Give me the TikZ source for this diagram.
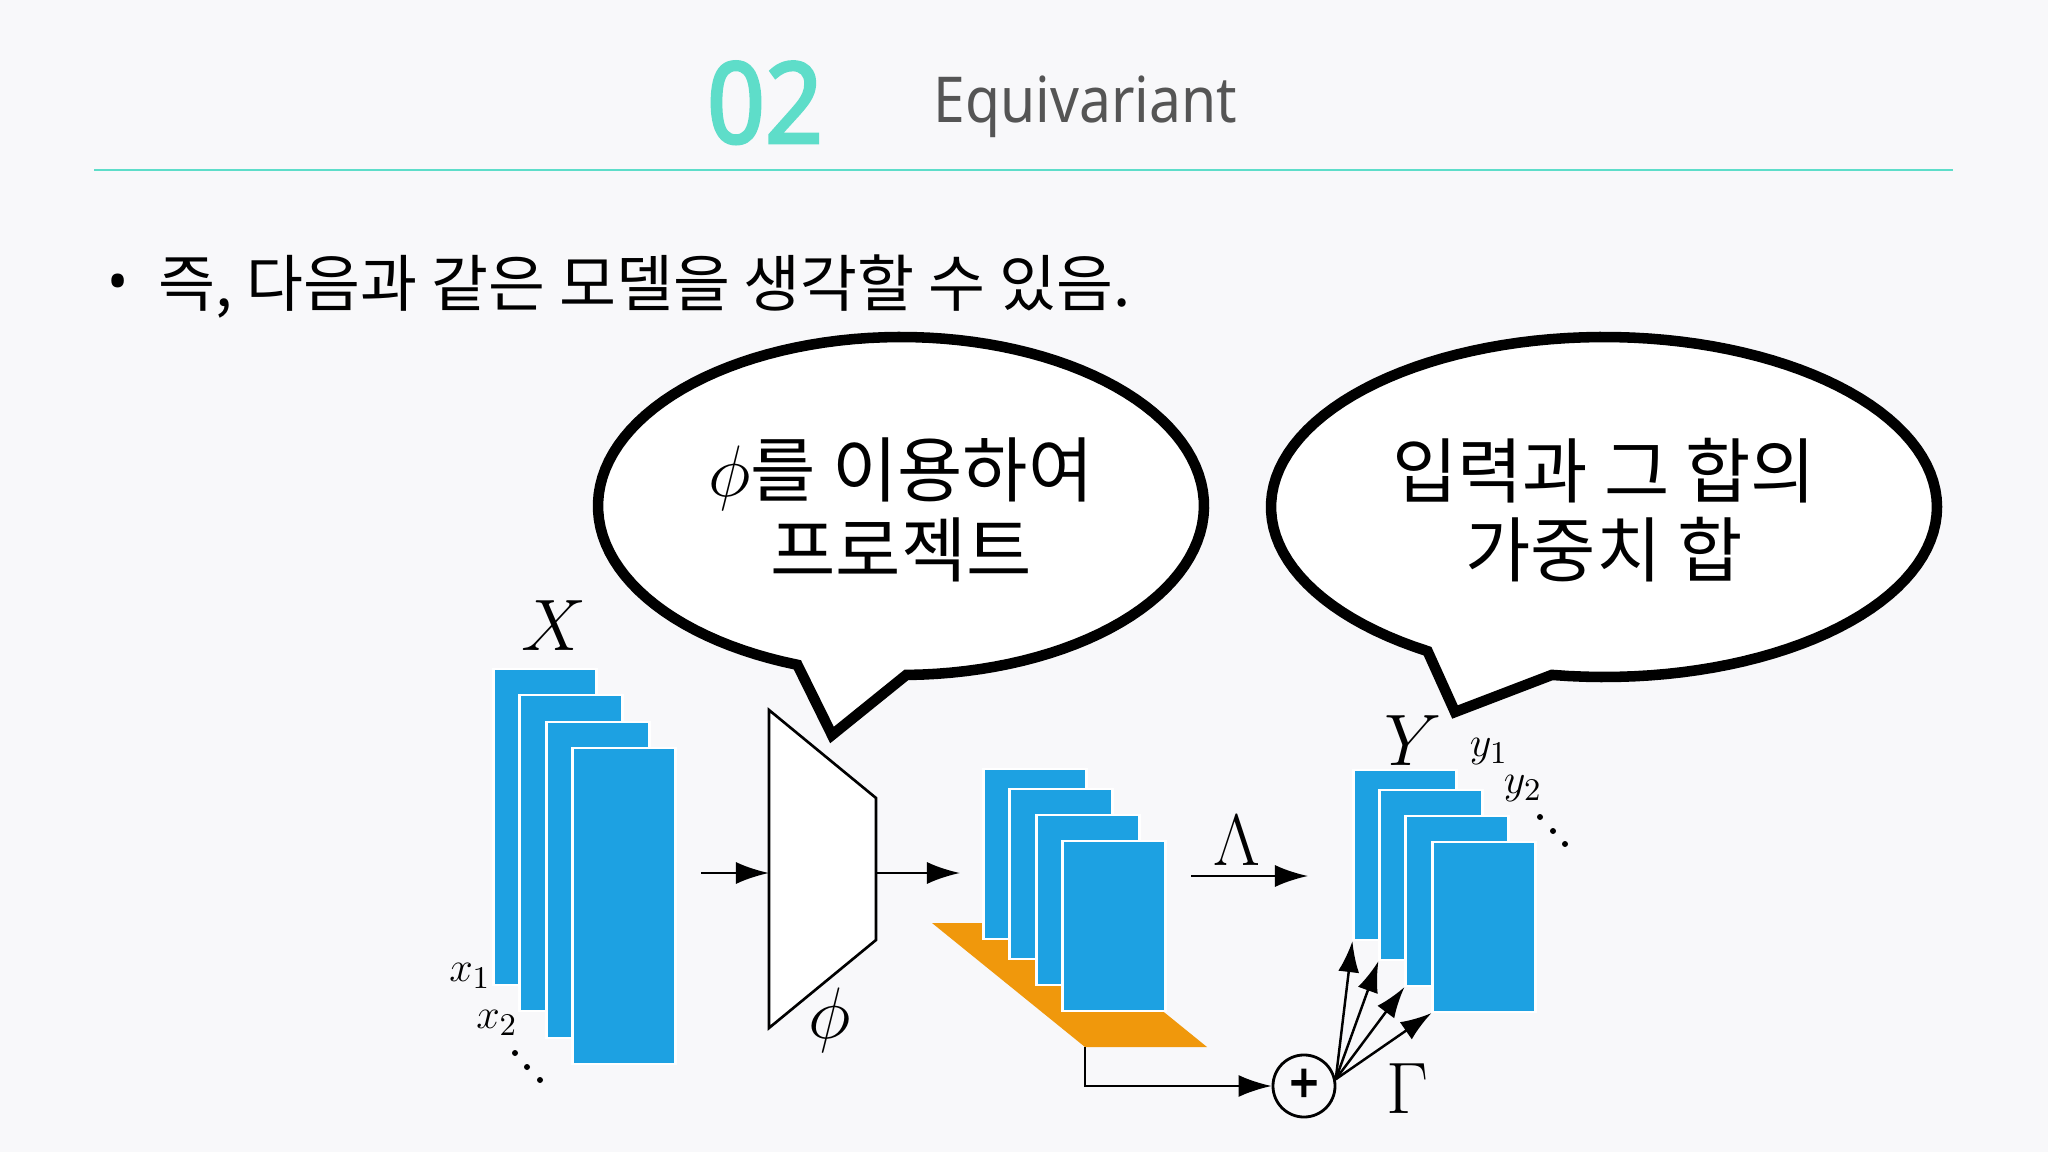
\documentclass[tikz,border=0pt]{standalone}
\usepackage{fontspec}
\setmainfont{Noto Sans}
\newfontfamily\krfont{Noto Sans CJK KR}
\newfontfamily\numfont{Noto Sans}[FakeBold=2.5, FakeStretch=0.9]
\newfontfamily\titlefont{Noto Sans}[FakeStretch=0.9]
\usetikzlibrary{arrows.meta}
\definecolor{slidebg}{RGB}{248,248,250}
\definecolor{slideteal}{RGB}{94,221,201}
\definecolor{titlegray}{RGB}{85,85,85}
\definecolor{sheetblue}{RGB}{29,161,226}
\definecolor{poolorange}{RGB}{240,152,12}

\tikzset{
  sheet/.style={fill=sheetblue, draw=white, line width=0.6pt, inner sep=0pt},
  tallsheet/.style={sheet, minimum width=1.03cm, minimum height=3.16cm},
  shortsheet/.style={sheet, minimum width=1.03cm, minimum height=1.70cm},
  flow/.style={line width=0.7pt, -{Latex[length=0.33cm, width=0.22cm]}},
  fan/.style={line width=0.7pt, -{Latex[length=0.31cm, width=0.21cm]}},
  bubble/.style={draw=black, fill=white, line width=3pt, line join=miter},
  bubbletext/.style={font=\krfont\fontsize{20.2}{22.6}\selectfont, align=center, inner sep=0pt},
  mathlabel/.style={font=\fontsize{20}{20}\selectfont, inner sep=0pt},
  sublabel/.style={font=\fontsize{13}{13}\selectfont, inner sep=0pt},
}

\begin{document}
\begin{tikzpicture}[x=0.01cm, y=-0.01cm]
% slide background
\fill[slidebg] (0,0) rectangle (2048,1152);
\useasboundingbox (0,0) rectangle (2048,1152);

% header
\node[anchor=base, font=\numfont\fontsize{32}{32}\selectfont, text=slideteal, inner sep=0pt] (secnum) at (765,143) {02};
\node[anchor=base west, font=\titlefont\fontsize{18}{18}\selectfont, text=titlegray, inner sep=0pt] (sectitle) at (933,123) {Equivariant};
\draw[slideteal, line width=0.85pt] (94,170) -- (1953,170);

% bullet line
\node[anchor=base, font=\fontsize{16}{16}\selectfont, inner sep=0pt] (bulletdot) at (118,302) {•};
\node[anchor=base west, font=\krfont\fontsize{17.6}{17.6}\selectfont, inner sep=0pt] (intro) at (158,307) {즉, 다음과 같은 모델을 생각할 수 있음.};

% speech bubbles
\draw[bubble] (832,735) -- plot[domain=110:449, samples=120] ({901+303*cos(\x)},{506+169*sin(\x)}) -- cycle;
\node[bubbletext] (leftnote) at (901,510) {$\phi$를 이용하여\\프로젝트};
\draw[bubble] (1455,712) -- plot[domain=122:459, samples=120] ({1604+333*cos(\x)},{507+170*sin(\x)}) -- cycle;
\node[bubbletext] (rightnote) at (1604,510) {입력과 그 합의\\가중치 합};

% input set X
\node[tallsheet] (x1) at (545,827) {};
\node[tallsheet] (x2) at (571,853) {};
\node[tallsheet] (x3) at (598,880) {};
\node[tallsheet] (x4) at (624,906) {};
\node[mathlabel] (xlab) at (554,626) {$X$};
\node[sublabel] (x1lab) at (470,976) {$x_1$};
\node[sublabel] (x2lab) at (497,1023) {$x_2$};
\fill (515,1053) circle (3);
\fill (527,1067) circle (3);
\fill (540,1080) circle (3);

% encoder phi
\draw[line width=0.75pt, fill=white] (769,710) -- (876,798) -- (876,940) -- (769,1028) -- cycle;
\node[mathlabel] (philab) at (830,1020) {$\phi$};
\coordinate (xin) at (701,873);
\coordinate (encin) at (769,873);
\coordinate (encout) at (876,873);
\coordinate (hin) at (960,873);
\draw[flow] (xin) -- (encin);
\draw[flow] (encout) -- (hin);

% pooled plane and hidden set
\fill[poolorange] (932,923) -- (1054,923) -- (1207,1047) -- (1085,1047) -- cycle;
\coordinate (pool) at (1085,1047);
\node[shortsheet] (h1) at (1035,854) {};
\node[shortsheet] (h2) at (1061,874) {};
\node[shortsheet] (h3) at (1088,900) {};
\node[shortsheet] (h4) at (1114,926) {};

% Lambda map
\coordinate (lamstart) at (1191,876);
\coordinate (lamend) at (1308,876);
\draw[flow] (lamstart) -- (lamend);
\node[mathlabel] (lamlab) at (1237,841) {$\Lambda$};

% output set Y
\node[shortsheet] (y1) at (1405,855) {};
\node[shortsheet] (y2) at (1431,875) {};
\node[shortsheet] (y3) at (1457,901) {};
\node[shortsheet] (y4) at (1484,927) {};
\node[mathlabel] (ylab) at (1413,741) {$Y$};
\node[sublabel] (y1lab) at (1489,752) {$y_1$};
\node[sublabel] (y2lab) at (1523,789) {$y_2$};
\fill (1540,817) circle (3);
\fill (1553,831) circle (3);
\fill (1565,844) circle (3);

% sum and Gamma
\node[draw, circle, line width=0.8pt, minimum size=0.62cm, inner sep=0pt, font=\numfont\fontsize{16}{16}\selectfont] (plus) at (1304,1086) {+};
\draw[flow] (pool) |- (plus);
\draw[fan] (plus.12) -- (y1.south west);
\draw[fan] (plus.12) -- (y2.south west);
\draw[fan] (plus.12) -- (y3.south west);
\draw[fan] (plus.12) -- (y4.south west);
\node[mathlabel] (gamlab) at (1407,1089) {$\Gamma$};
\end{tikzpicture}
\end{document}
